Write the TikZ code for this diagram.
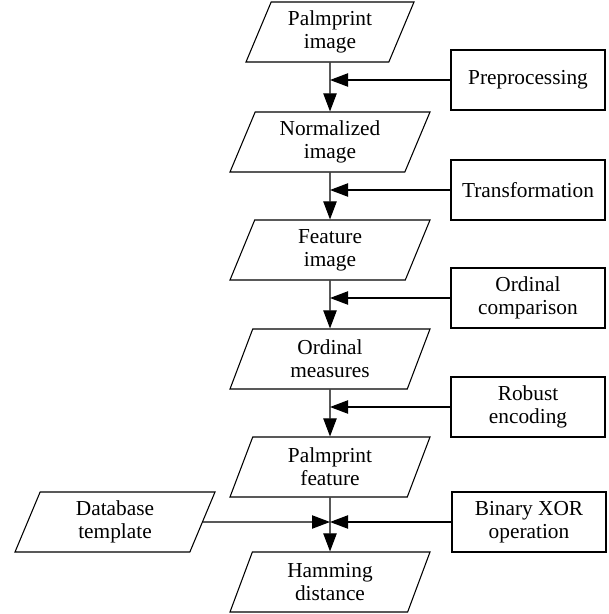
\documentclass[tikz,border=0pt]{standalone}
\usepackage{fontspec}
\setmainfont{Liberation Serif}
\usetikzlibrary{shapes.geometric,arrows.meta}
\begin{document}
\begin{tikzpicture}[x=0.75pt,y=-0.75pt,line width=0.8pt,
	font=\rmfamily\fontsize{16}{17.5}\selectfont,
	data/.style={draw, trapezium, trapezium left angle=61, trapezium right angle=119,
		trapezium stretches body, minimum width=150pt, minimum height=45pt,
		align=center, inner sep=1pt},
	proc/.style={draw, rectangle, minimum width=115.5pt, minimum height=45pt, align=center},
	flow/.style={-{Triangle[length=13.5pt,width=10pt]}}]
		\useasboundingbox (0,0) rectangle (608,614);
		
		\node[data, minimum width=126pt] (pimg) at (330,32) {Palmprint\\image};
		\node[data] (nimg) at (330,142) {Normalized\\image};
		\node[data] (fimg) at (330,250) {Feature\\image};
		\node[data] (omeas) at (330,359) {Ordinal\\measures};
		\node[data] (pfeat) at (330,467) {Palmprint\\feature};
		\node[data] (hdist) at (330,582) {Hamming\\distance};
		\node[data] (dbtpl) at (115,522) {Database\\template};
		
		\node[proc] (prep) at (528,80) {Preprocessing};
		\node[proc] (trans) at (528,190) {Transformation};
		\node[proc] (ocomp) at (528,298) {Ordinal\\comparison};
		\node[proc] (renc) at (528,407) {Robust\\encoding};
		\node[proc] (bxor) at (529,522) {Binary XOR\\operation};
		
		\coordinate (jx) at (pfeat.south |- bxor.west);
		
		\draw[flow] (pimg.south) -- (nimg.north);
		\draw[flow] (nimg.south) -- (fimg.north);
		\draw[flow] (fimg.south) -- (omeas.north);
		\draw[flow] (omeas.south) -- (pfeat.north);
		\draw[flow] (pfeat.south) -- (hdist.north);
		
		\draw[flow] (prep.west) -- (prep.west -| pimg.south);
		\draw[flow] (trans.west) -- (trans.west -| nimg.south);
		\draw[flow] (ocomp.west) -- (ocomp.west -| fimg.south);
		\draw[flow] (renc.west) -- (renc.west -| omeas.south);
		\draw[flow] (bxor.west) -- (jx);
		\draw[flow] (dbtpl.east) -- (jx);
\end{tikzpicture}
\end{document}
